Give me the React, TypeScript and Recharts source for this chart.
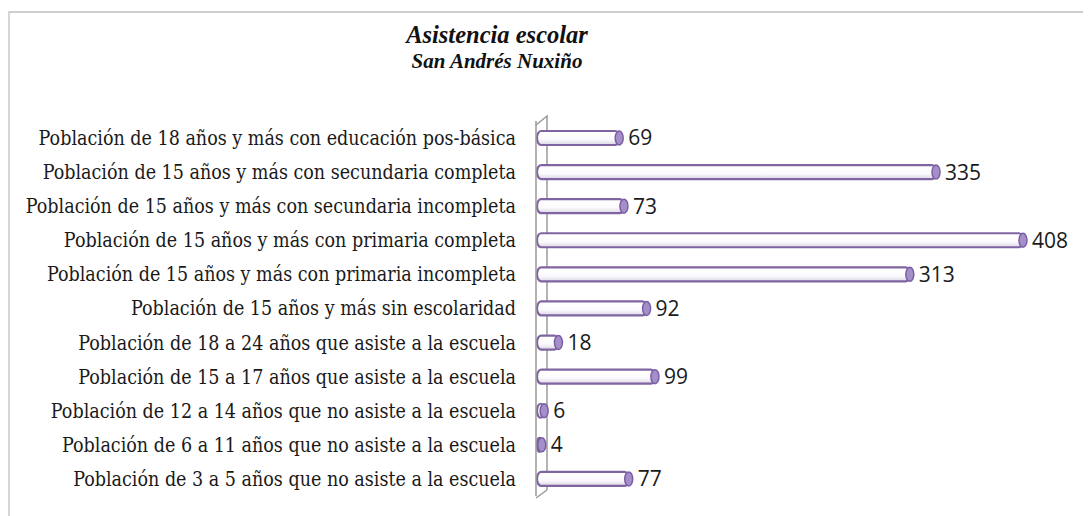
import { BarChart, Bar, XAxis, YAxis, LabelList } from "recharts";

const categories = [
  "Población de 18 años y más con educación pos-básica",
  "Población de 15 años y más con secundaria completa",
  "Población de 15 años y más con secundaria incompleta",
  "Población de 15 años y más con primaria completa",
  "Población de 15 años y más con primaria incompleta",
  "Población de 15 años y más sin escolaridad",
  "Población de 18 a 24 años que asiste a la escuela",
  "Población de 15 a 17 años que asiste a la escuela",
  "Población de 12 a 14 años que no asiste a la escuela",
  "Población de 6 a 11 años que no asiste a la escuela",
  "Población de 3 a 5 años que no asiste a la escuela",
];

const values = [69, 335, 73, 408, 313, 92, 18, 99, 6, 4, 77];

const data = categories.map((name, i) => ({ name, value: values[i] }));

const SERIF = "'DejaVu Serif Condensed', 'DejaVu Serif', serif";
const TITLE_SERIF = "'Liberation Serif', serif";
const SANS = "'Open Sans', sans-serif";

// cylinder-ish bar like the excel 3d style
function CylinderBar(props: any) {
  const { x, y, width, height } = props;
  if (width == null || height == null) return null;
  const cy = y + height / 2;
  const bodyW = Math.max(width, 1);
  return (
    <g>
      <rect
        x={x + 1}
        y={y}
        width={bodyW}
        height={height}
        rx={4}
        ry={height / 2}
        fill="url(#barBody)"
        stroke="#8064A2"
        strokeWidth={2.2}
      />
      <ellipse
        cx={x + 1 + bodyW}
        cy={cy}
        rx={4}
        ry={height / 2}
        fill="#a48fc8"
        stroke="#7b5fa6"
        strokeWidth={1.5}
      />
    </g>
  );
}

export default function App() {
  return (
    <div
      style={{
        position: "relative",
        width: 1083,
        height: 508,
        borderTop: "2px solid #cfcfcf",
        borderLeft: "2px solid #d6d6d6",
        marginTop: 3,
        boxSizing: "border-box",
        background: "#fff",
      }}
    >
      {/* back edge of the 3d wall, sits behind the bars */}
      <svg
        width={1081}
        height={506}
        style={{ position: "absolute", left: 0, top: 0 }}
      >
        <g stroke="#9a9a9a" strokeWidth={1.5} fill="none">
          <polyline points="526,112 537,103 537,477" />
          <polyline points="526,485 537,477" />
        </g>
      </svg>
      <div
        style={{
          position: "absolute",
          left: 0,
          width: 974,
          top: 8,
          textAlign: "center",
          fontFamily: TITLE_SERIF,
          fontStyle: "italic",
          fontWeight: "bold",
          color: "#111",
        }}
      >
        <div style={{ fontSize: 24.5, lineHeight: "28px" }}>Asistencia escolar</div>
        <div style={{ fontSize: 21, lineHeight: "24px", marginTop: 0 }}>San Andrés Nuxiño</div>
      </div>
      <div style={{ position: "absolute", left: 0, top: 0 }}>
        <BarChart
          width={1081}
          height={506}
          data={data}
          layout="vertical"
          margin={{ top: 108, right: 19, bottom: 23, left: 0 }}
        >
          <defs>
            <linearGradient id="barBody" x1="0" y1="0" x2="0" y2="1">
              <stop offset="0%" stopColor="#ffffff" />
              <stop offset="60%" stopColor="#fbfafd" />
              <stop offset="100%" stopColor="#dcd6e4" />
            </linearGradient>
          </defs>
          <XAxis type="number" domain={[0, 450]} hide />
          <YAxis
            type="category"
            dataKey="name"
            width={526}
            tickLine={false}
            tickSize={0}
            tickMargin={20}
            axisLine={{ stroke: "#9a9a9a", strokeWidth: 1.5 }}
            interval={0}
            tick={{ fill: "#1a1a1a", fontSize: 19.5, fontFamily: SERIF }}
          />
          <Bar
            dataKey="value"
            barSize={14}
            shape={<CylinderBar />}
            isAnimationActive={false}
          >
            <LabelList
              dataKey="value"
              position="right"
              offset={10}
              style={{ fill: "#1a1a1a", fontSize: 21, fontFamily: SANS }}
            />
          </Bar>
        </BarChart>
      </div>
    </div>
  );
}
